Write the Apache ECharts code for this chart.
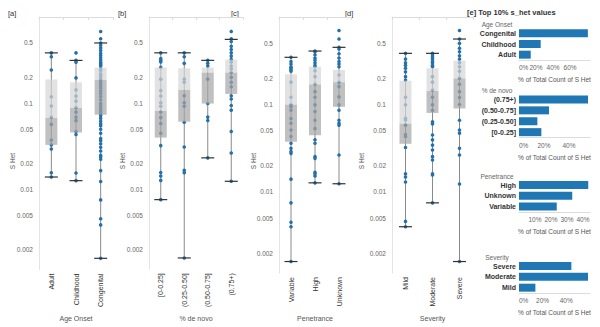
<!DOCTYPE html>
<html><head><meta charset="utf-8">
<script src="https://cdn.jsdelivr.net/npm/echarts@6/dist/echarts.min.js"></script>
<style>html,body{margin:0;padding:0;background:#fff}#c{width:600px;height:327px}</style>
</head><body><div id="c"></div>
<script>
// ---------- DATA ----------
const ageCats = ['Adult', 'Childhood', 'Congenital'];
const ageAdult = [0.384, 0.346, 0.243, 0.119, 0.093, 0.069, 0.057, 0.0375, 0.033, 0.0296, 0.0157, 0.014];
const ageChildhood = [0.384, 0.314, 0.300, 0.197, 0.143, 0.121, 0.106, 0.089, 0.079, 0.069, 0.063, 0.047, 0.0435, 0.0156, 0.0127];
const ageCongenital = [0.68, 0.56, 0.50, 0.47, 0.44, 0.41, 0.38, 0.36, 0.34, 0.32, 0.30, 0.29, 0.28, 0.27, 0.25, 0.24, 0.22, 0.21, 0.20, 0.19, 0.18, 0.17, 0.16, 0.15, 0.14, 0.13, 0.12, 0.11, 0.10, 0.095, 0.09, 0.085, 0.08, 0.075, 0.072, 0.067, 0.062, 0.058, 0.055, 0.050, 0.045, 0.039, 0.037, 0.034, 0.031, 0.028, 0.025, 0.024, 0.0225, 0.0166, 0.0124, 0.0076, 0.0046, 0.0039, 0.0016];
// box stats: [min, q1, median, q3, max]
const ageBoxes = [[0.014, 0.033, 0.068, 0.189, 0.384], [0.0127, 0.0459, 0.0887, 0.175, 0.314], [0.0016, 0.0738, 0.187, 0.259, 0.50]];

const novoCats = ['[0-0.25]', '(0.25-0.50]', '(0.50-0.75]', '(0.75+)'];
const novoA = [0.384, 0.33, 0.314, 0.30, 0.26, 0.19, 0.140, 0.121, 0.101, 0.092, 0.079, 0.068, 0.058, 0.0447, 0.0322, 0.0157, 0.0143, 0.0127, 0.0076];
const novoB = [0.384, 0.346, 0.29, 0.19, 0.175, 0.122, 0.101, 0.092, 0.06, 0.031, 0.0166, 0.0156, 0.0016];
const novoC = [0.314, 0.29, 0.27, 0.19, 0.099, 0.069, 0.063, 0.0232];
const novoD = [0.68, 0.56, 0.52, 0.457, 0.419, 0.384, 0.352, 0.322, 0.30, 0.27, 0.25, 0.227, 0.20, 0.175, 0.155, 0.122, 0.112, 0.094, 0.083, 0.047, 0.0264, 0.0124];
const novoBoxes = [[0.0076, 0.0399, 0.0818, 0.259, 0.384], [0.0016, 0.061, 0.143, 0.254, 0.384], [0.0232, 0.099, 0.227, 0.259, 0.314], [0.0124, 0.128, 0.227, 0.32, 0.55]];

const penCats = ['Variable', 'High', 'Unknown'];
const penVariable = [0.346, 0.31, 0.29, 0.27, 0.26, 0.25, 0.24, 0.18, 0.121, 0.099, 0.094, 0.086, 0.069, 0.061, 0.051, 0.043, 0.036, 0.0315, 0.029, 0.0276, 0.014, 0.0075, 0.0045, 0.004, 0.0016];
const penHigh = [0.408, 0.40, 0.37, 0.34, 0.32, 0.30, 0.28, 0.27, 0.243, 0.208, 0.171, 0.140, 0.121, 0.099, 0.083, 0.066, 0.053, 0.0395, 0.036, 0.0253, 0.0242, 0.0168, 0.0161, 0.0152, 0.0127];
const penUnknown = [0.70, 0.56, 0.45, 0.43, 0.38, 0.34, 0.31, 0.29, 0.27, 0.217, 0.18, 0.16, 0.122, 0.099, 0.086, 0.066, 0.061, 0.058, 0.0264, 0.0124];
const penBoxes = [[0.0016, 0.0375, 0.100, 0.221, 0.346], [0.0127, 0.0445, 0.17, 0.27, 0.408], [0.0124, 0.094, 0.18, 0.248, 0.45]];

const sevCats = ['Mild', 'Moderate', 'Severe'];
const sevMild = [0.384, 0.33, 0.30, 0.28, 0.259, 0.236, 0.208, 0.19, 0.121, 0.099, 0.0694, 0.0666, 0.058, 0.0454, 0.043, 0.0322, 0.0161, 0.0148, 0.013, 0.0046, 0.004];
const sevModerate = [0.384, 0.37, 0.35, 0.33, 0.31, 0.30, 0.28, 0.27, 0.208, 0.18, 0.146, 0.121, 0.099, 0.086, 0.0634, 0.060, 0.0447, 0.0394, 0.0343, 0.0302, 0.0253, 0.0232, 0.0161, 0.0156, 0.0075];
const sevSevere = [0.70, 0.56, 0.50, 0.44, 0.40, 0.36, 0.33, 0.30, 0.27, 0.24, 0.20, 0.17, 0.14, 0.12, 0.10, 0.066, 0.051, 0.047, 0.0316, 0.0264, 0.0123, 0.0016];
const sevBoxes = [[0.004, 0.0355, 0.0606, 0.187, 0.384], [0.0075, 0.080, 0.143, 0.259, 0.384], [0.0016, 0.090, 0.199, 0.317, 0.56]];

const yTickVals = [0.5, 0.2, 0.1, 0.05, 0.02, 0.01, 0.005, 0.002];
const yTickLabels = ['0.5', '0.2', '0.1', '0.05', '0.02', '0.01', '0.005', '0.002'];

// top 10% bars (% of total count)
const topAgeCats = ['Congenital', 'Childhood', 'Adult'];
const topAgeVals = [81, 25.5, 13.8];
const topNovoCats = ['(0.75+)', '(0.50-0.75]', '(0.25-0.50]', '[0-0.25]'];
const topNovoVals = [55.2, 24, 14.7, 17.9];
const topPenCats = ['High', 'Unknown', 'Variable'];
const topPenVals = [43.3, 33.3, 23.6];
const topSevCats = ['Severe', 'Moderate', 'Mild'];
const topSevVals = [44.4, 58.5, 13.9];

// ---------- CHART ----------
const FONT = 'Liberation Sans, Arial, sans-serif';
const L = Math.log10;
const boxPanels = [
  {cats: ageCats, pts: [ageAdult, ageChildhood, ageCongenital], boxes: ageBoxes, name: 'Age Onset', tag: '[a]'},
  {cats: novoCats, pts: [novoA, novoB, novoC, novoD], boxes: novoBoxes, name: '% de novo', tag: '[b]'},
  {cats: penCats, pts: [penVariable, penHigh, penUnknown], boxes: penBoxes, name: 'Penetrance', tag: '[c]'},
  {cats: sevCats, pts: [sevMild, sevModerate, sevSevere], boxes: sevBoxes, name: 'Severity', tag: '[d]'}
];
const boxGrids = [
  {left: 39, top: 17, width: 74, height: 256},
  {left: 149, top: 17, width: 94, height: 256},
  {left: 279, top: 17, width: 72, height: 256},
  {left: 392, top: 17, width: 81, height: 256}
];
const titleX = [8, 118, 231, 345];
const sHetX = [12, 122, 253, 361];
const barPanels = [
  {cats: topAgeCats, vals: topAgeVals, head: 'Age Onset', grid: {left: 519, top: 28, width: 71, height: 32}, max: 83.5, ticks: [0, 20, 40, 60]},
  {cats: topNovoCats, vals: topNovoVals, head: '% de novo', grid: {left: 519, top: 94, width: 71, height: 43.6}, max: 56.8, ticks: [0, 20, 40]},
  {cats: topPenCats, vals: topPenVals, head: 'Penetrance', grid: {left: 519, top: 179.6, width: 71, height: 32.4}, max: 44.4, ticks: [10, 20, 30, 40]},
  {cats: topSevCats, vals: topSevVals, head: 'Severity', grid: {left: 519, top: 260.6, width: 71, height: 32.5}, max: 60.2, ticks: [0, 20, 40]}
];

const grid = [], xAxis = [], yAxis = [], series = [], graphic = [];
const YMIN = -2.927, YMAX = 0;

boxPanels.forEach((p, i) => {
  grid.push(boxGrids[i]);
  xAxis.push({
    type: 'category', gridIndex: i, data: p.cats,
    name: p.name, nameLocation: 'middle', nameGap: 42,
    nameTextStyle: {fontFamily: FONT, fontSize: 7, color: '#555'},
    axisLine: {lineStyle: {color: '#dcdcdc'}},
    axisTick: {show: true, length: 3, lineStyle: {color: '#dcdcdc'}},
    axisLabel: {rotate: 90, fontFamily: FONT, fontSize: 7, color: '#333', margin: 4}
  });
  yAxis.push({
    type: 'value', gridIndex: i, min: YMIN, max: YMAX,
    splitLine: {show: false},
    axisLine: {show: true, lineStyle: {color: '#e4e4e4'}},
    axisTick: {show: false},
    axisLabel: {
      customValues: yTickVals.map(L),
      fontFamily: FONT, fontSize: 6.5, color: '#666', margin: 6,
      formatter: v => {
        let best = 0, bd = 1e9;
        yTickVals.forEach((t, k) => { const d = Math.abs(L(t) - v); if (d < bd) { bd = d; best = k; } });
        return yTickLabels[best];
      }
    }
  });
  // whisker line
  series.push({
    type: 'custom', xAxisIndex: i, yAxisIndex: i, z: 1, silent: true,
    data: p.boxes.map((b, k) => [k, L(b[0]), L(b[4])]),
    renderItem: (params, api) => {
      const a = api.coord([api.value(0), api.value(1)]);
      const b = api.coord([api.value(0), api.value(2)]);
      return {type: 'line', shape: {x1: a[0], y1: a[1], x2: b[0], y2: b[1]}, style: {stroke: '#8a8a8a', lineWidth: 1}};
    }
  });
  // points
  const pts = [];
  p.pts.forEach((arr, k) => arr.forEach(v => pts.push([k, L(v)])));
  series.push({
    type: 'scatter', xAxisIndex: i, yAxisIndex: i, z: 2, silent: true,
    symbolSize: 3.6, itemStyle: {color: '#2470a8', opacity: 1},
    data: pts
  });
  // boxes + caps
  series.push({
    type: 'custom', xAxisIndex: i, yAxisIndex: i, z: 3, silent: true,
    data: p.boxes.map((b, k) => [k, L(b[0]), L(b[1]), L(b[2]), L(b[3]), L(b[4])]),
    renderItem: (params, api) => {
      const x = api.value(0);
      const mn = api.coord([x, api.value(1)]);
      const q1 = api.coord([x, api.value(2)]);
      const md = api.coord([x, api.value(3)]);
      const q3 = api.coord([x, api.value(4)]);
      const mx = api.coord([x, api.value(5)]);
      const w = 12, cw = 13;
      const cx = q1[0];
      return {type: 'group', children: [
        {type: 'rect', shape: {x: cx - w / 2, y: md[1], width: w, height: q1[1] - md[1]}, style: {fill: 'rgba(165,165,165,0.7)'}},
        {type: 'rect', shape: {x: cx - w / 2, y: q3[1], width: w, height: md[1] - q3[1]}, style: {fill: 'rgba(214,214,214,0.7)'}},
        {type: 'line', shape: {x1: cx - cw / 2, y1: mn[1], x2: cx + cw / 2, y2: mn[1]}, style: {stroke: '#333', lineWidth: 1.2}},
        {type: 'line', shape: {x1: cx - cw / 2, y1: mx[1], x2: cx + cw / 2, y2: mx[1]}, style: {stroke: '#333', lineWidth: 1.2}}
      ]};
    }
  });
  graphic.push({type: 'text', x: titleX[i], y: 13, style: {text: p.tag, font: '7.5px ' + FONT, fill: '#333', textVerticalAlign: 'middle'}});
  graphic.push({type: 'text', x: sHetX[i], y: 161, rotation: Math.PI / 2,
    style: {text: 'S Het', font: '6.5px ' + FONT, fill: '#555', textAlign: 'center', textVerticalAlign: 'middle'}});
});

barPanels.forEach((p, j) => {
  const gi = 4 + j;
  grid.push(p.grid);
  const lab = {customValues: p.ticks, formatter: v => v + '%', fontFamily: FONT, fontSize: 6.5, color: '#666', margin: 4};
  if (p.ticks[0] === 0) lab.alignMinLabel = 'left';
  xAxis.push({
    type: 'value', gridIndex: gi, min: 0, max: p.max,
    name: '% of Total Count of S Het', nameLocation: 'middle', nameGap: 16,
    nameTextStyle: {fontFamily: FONT, fontSize: 6.5, color: '#555'},
    splitLine: {show: false},
    axisLine: {show: true, lineStyle: {color: '#dcdcdc'}},
    axisTick: {show: false},
    axisLabel: lab
  });
  yAxis.push({
    type: 'category', gridIndex: gi, data: p.cats, inverse: true,
    axisLine: {show: false}, axisTick: {show: false},
    axisLabel: {fontFamily: FONT, fontSize: 7, fontWeight: 'bold', color: '#333', margin: 3}
  });
  series.push({
    type: 'bar', xAxisIndex: gi, yAxisIndex: gi, data: p.vals, barWidth: 8,
    itemStyle: {color: '#1f77b4'}, silent: true
  });
  graphic.push({type: 'text', x: 497, y: p.grid.top - 3.3, style: {text: p.head, font: '6.5px ' + FONT, fill: '#666', textAlign: 'center', textVerticalAlign: 'middle'}});
});
graphic.push({type: 'text', x: 467, y: 12, style: {text: '[e] Top 10% s_het values', font: 'bold 7.5px ' + FONT, fill: '#333', textVerticalAlign: 'middle'}});

const chart = echarts.init(document.getElementById('c'), null, {renderer: 'svg'});
chart.setOption({animation: false, grid, xAxis, yAxis, series, graphic});
</script>
</body></html>
